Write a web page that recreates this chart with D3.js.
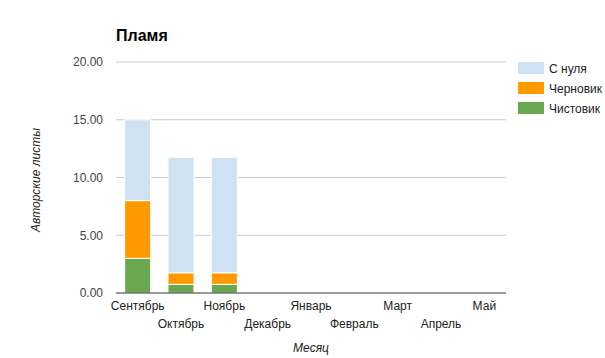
<!DOCTYPE html>
<html><head><meta charset="utf-8">
<script src="https://cdn.jsdelivr.net/npm/d3@7"></script>
<style>body{margin:0;background:#fff}svg{display:block;font-family:Arial,"Liberation Sans",sans-serif}</style>
</head><body><svg id="c" width="605" height="358"></svg>
<script>
const months = ["Сентябрь","Октябрь","Ноябрь","Декабрь","Январь","Февраль","Март","Апрель","Май"];
const seriesNames = ["Чистовик","Черновик","С нуля"];
const clean = [3, 0.75, 0.75, 0, 0, 0, 0, 0, 0];
const draft = [5, 1, 1, 0, 0, 0, 0, 0, 0];
const scratch = [7, 10, 10, 0, 0, 0, 0, 0, 0];
const colors = ["#6aa84f","#ff9900","#cfe2f3"];
const yTicks = [0,5,10,15,20];
const legendOrder = ["С нуля","Черновик","Чистовик"];

const svg = d3.select("#c");
const pL = 116, pR = 506, pT = 62, pB = 293;
const x = d3.scaleBand().domain(months).range([pL,pR]).paddingInner(0.4).paddingOuter(0.2);
const y = d3.scaleLinear().domain([0,20]).range([pB,pT]);

// gridlines
svg.append("g").selectAll("line").data(yTicks.filter(d=>d>0)).join("line")
  .attr("x1",pL).attr("x2",pR).attr("y1",d=>y(d)).attr("y2",d=>y(d))
  .attr("stroke","#cccccc").attr("stroke-width",1);

// stacked bars
const rows = months.map((m,i)=>({m, "Чистовик":clean[i], "Черновик":draft[i], "С нуля":scratch[i]}));
const stack = d3.stack().keys(seriesNames)(rows);
svg.append("g").selectAll("g").data(stack).join("g")
  .attr("fill",(d,i)=>colors[i])
  .selectAll("rect").data(d=>d.filter(p=>p[1]-p[0]>0)).join("rect")
  .attr("x",d=>x(d.data.m)).attr("width",x.bandwidth())
  .attr("y",d=>y(d[1])).attr("height",d=>y(d[0])-y(d[1]))
  .attr("stroke","#ffffff").attr("stroke-width",1);

// baseline
svg.append("line").attr("x1",pL).attr("x2",pR).attr("y1",y(0)).attr("y2",y(0))
  .attr("stroke","#333333").attr("stroke-width",1);

// y axis labels
const yAxis = d3.axisLeft(y).tickValues(yTicks).tickFormat(d3.format(".2f")).tickSize(0).tickPadding(13);
const ya = svg.append("g").attr("transform",`translate(${pL},0)`).call(yAxis);
ya.select(".domain").remove();
ya.selectAll("text").attr("font-size",12).attr("fill","#444").attr("font-family","Arial,'Liberation Sans',sans-serif");

// x axis labels (staggered)
const xAxis = d3.axisBottom(x).tickSize(0).tickPadding(0);
const xa = svg.append("g").attr("transform",`translate(0,${pB})`).call(xAxis);
xa.select(".domain").remove();
xa.selectAll("text").attr("font-size",12).attr("fill","#222").attr("font-family","Arial,'Liberation Sans',sans-serif")
  .attr("dy",null).attr("y",(d,i)=> i%2===0 ? 17 : 35);

// titles
svg.append("text").attr("x",116).attr("y",41).attr("font-size",16).attr("font-weight","bold").attr("fill","#000").text("Пламя");
svg.append("text").attr("x",(pL+pR)/2).attr("y",352).attr("text-anchor","middle").attr("font-size",12).attr("font-style","italic").attr("fill","#222").text("Месяц");
svg.append("text").attr("transform","translate(40,180) rotate(-90)").attr("text-anchor","middle").attr("font-size",12).attr("font-style","italic").attr("fill","#222").text("Авторские листы");

// legend
const lg = svg.append("g").selectAll("g").data(legendOrder).join("g")
  .attr("transform",(d,i)=>`translate(518,${62+i*20})`);
lg.append("rect").attr("width",26).attr("height",12).attr("fill",d=>colors[seriesNames.indexOf(d)]);
lg.append("text").attr("x",31).attr("y",10.5).attr("font-size",12).attr("fill","#222").text(d=>d);
</script></body></html>
